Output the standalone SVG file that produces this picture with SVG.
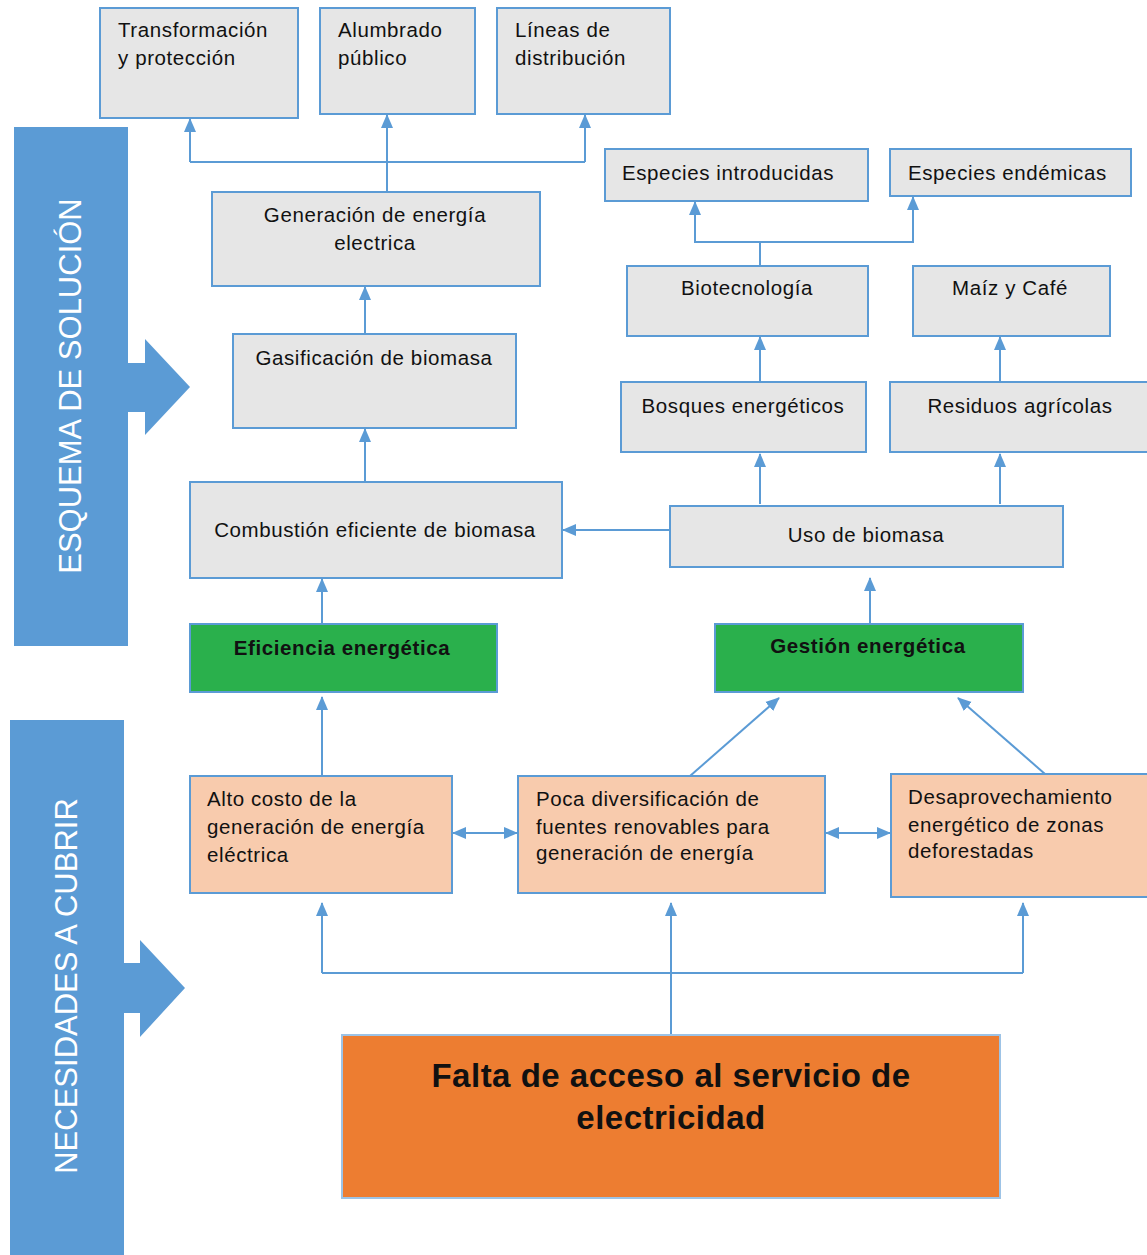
<svg xmlns="http://www.w3.org/2000/svg" width="1147" height="1255" viewBox="0 0 1147 1255">
<style>
.box{fill:#e6e6e6;stroke:#5b9bd5;stroke-width:2}
.green{fill:#2ab04c;stroke:#5b9bd5;stroke-width:2}
.peach{fill:#f8cbad;stroke:#5b9bd5;stroke-width:2}
.orange{fill:#ed7d31;stroke:#9dc3e6;stroke-width:2}
.t{font-family:"Liberation Sans",Arial,sans-serif;font-size:20.5px;letter-spacing:0.6px;fill:#111}
.c{text-anchor:middle}
.b{font-weight:bold}
.big{font-family:"Liberation Sans",Arial,sans-serif;font-size:33px;letter-spacing:0.5px;font-weight:bold;fill:#111;text-anchor:middle}
.ban{font-family:"Liberation Sans",Arial,sans-serif;font-size:31px;fill:#fff;text-anchor:middle}
.ln{fill:none;stroke:#5b9bd5;stroke-width:2}
</style>
<defs>
<marker id="ah" markerUnits="userSpaceOnUse" markerWidth="14" markerHeight="14" viewBox="0 0 14 14" refX="13" refY="7" orient="auto-start-reverse">
<path d="M0,1 L14,7 L0,13 Z" fill="#5b9bd5"/>
</marker>
</defs>
<rect width="1147" height="1255" fill="#fff"/>

<g id="banner-solucion">
<path d="M14,127 H128 V363 H145 V339 L190,387 L145,435 V412 H128 V646 H14 Z" fill="#5b9bd5"/>
<text class="ban" transform="translate(81,386) rotate(-90)">ESQUEMA DE SOLUCIÓN</text>
</g>
<g id="banner-necesidades">
<path d="M10,720 H124 V963 H140 V940 L185,988 L140,1037 V1013 H124 V1255 H10 Z" fill="#5b9bd5"/>
<text class="ban" transform="translate(77,986) rotate(-90)">NECESIDADES A CUBRIR</text>
</g>

<g id="connectors">
<path class="ln" d="M387,192 V115" marker-end="url(#ah)"/>
<path class="ln" d="M190,162 H585"/>
<path class="ln" d="M190,162 V119" marker-end="url(#ah)"/>
<path class="ln" d="M585,162 V115" marker-end="url(#ah)"/>
<path class="ln" d="M365,334 V287" marker-end="url(#ah)"/>
<path class="ln" d="M365,482 V429" marker-end="url(#ah)"/>
<path class="ln" d="M322,624 V579" marker-end="url(#ah)"/>
<path class="ln" d="M760,266 V242 H695 V202" marker-end="url(#ah)"/>
<path class="ln" d="M760,242 H913 V197" marker-end="url(#ah)"/>
<path class="ln" d="M760,382 V337" marker-end="url(#ah)"/>
<path class="ln" d="M1000,382 V337" marker-end="url(#ah)"/>
<path class="ln" d="M760,504 V454" marker-end="url(#ah)"/>
<path class="ln" d="M1000,504 V454" marker-end="url(#ah)"/>
<path class="ln" d="M670,530 H563" marker-end="url(#ah)"/>
<path class="ln" d="M870,624 V578" marker-end="url(#ah)"/>
<path class="ln" d="M322,776 V697" marker-end="url(#ah)"/>
<path class="ln" d="M690,776 L779,698" marker-end="url(#ah)"/>
<path class="ln" d="M1045,774 L958,698" marker-end="url(#ah)"/>
<path class="ln" d="M453,833 H517" marker-start="url(#ah)" marker-end="url(#ah)"/>
<path class="ln" d="M826,833 H890" marker-start="url(#ah)" marker-end="url(#ah)"/>
<path class="ln" d="M322,973 H1023"/>
<path class="ln" d="M322,973 V903" marker-end="url(#ah)"/>
<path class="ln" d="M1023,973 V903" marker-end="url(#ah)"/>
<path class="ln" d="M671,1035 V903" marker-end="url(#ah)"/>
</g>

<g id="transformacion"><rect class="box" x="100" y="8" width="198" height="110"/>
<text class="t" x="118" y="37">Transformación</text><text class="t" x="118" y="65">y protección</text></g>
<g id="alumbrado"><rect class="box" x="320" y="8" width="155" height="106"/>
<text class="t" x="338" y="37">Alumbrado</text><text class="t" x="338" y="65">público</text></g>
<g id="lineas"><rect class="box" x="497" y="8" width="173" height="106"/>
<text class="t" x="515" y="37">Líneas de</text><text class="t" x="515" y="65">distribución</text></g>
<g id="generacion"><rect class="box" x="212" y="192" width="328" height="94"/>
<text class="t c" x="375" y="222">Generación de energía</text><text class="t c" x="375" y="250">electrica</text></g>
<g id="gasificacion"><rect class="box" x="233" y="334" width="283" height="94"/>
<text class="t c" x="374" y="365">Gasificación de biomasa</text></g>
<g id="combustion"><rect class="box" x="190" y="482" width="372" height="96"/>
<text class="t c" x="375" y="537">Combustión eficiente de biomasa</text></g>
<g id="eficiencia"><rect class="green" x="190" y="624" width="307" height="68"/>
<text class="t c b" x="342" y="655">Eficiencia energética</text></g>
<g id="especies-introducidas"><rect class="box" x="605" y="149" width="263" height="52"/>
<text class="t" x="622" y="180">Especies introducidas</text></g>
<g id="especies-endemicas"><rect class="box" x="890" y="149" width="241" height="47"/>
<text class="t" x="908" y="180">Especies endémicas</text></g>
<g id="biotecnologia"><rect class="box" x="627" y="266" width="241" height="70"/>
<text class="t c" x="747" y="295">Biotecnología</text></g>
<g id="maiz"><rect class="box" x="913" y="266" width="197" height="70"/>
<text class="t c" x="1010" y="295">Maíz y Café</text></g>
<g id="bosques"><rect class="box" x="621" y="382" width="245" height="70"/>
<text class="t c" x="743" y="413">Bosques energéticos</text></g>
<g id="residuos"><rect class="box" x="890" y="382" width="260" height="70"/>
<text class="t c" x="1020" y="413">Residuos agrícolas</text></g>
<g id="uso"><rect class="box" x="670" y="506" width="393" height="61"/>
<text class="t c" x="866" y="542">Uso de biomasa</text></g>
<g id="gestion"><rect class="green" x="715" y="624" width="308" height="68"/>
<text class="t c b" x="868" y="653">Gestión energética</text></g>
<g id="alto-costo"><rect class="peach" x="190" y="776" width="262" height="117"/>
<text class="t" x="207" y="806">Alto costo de la</text><text class="t" x="207" y="834">generación de energía</text><text class="t" x="207" y="862">eléctrica</text></g>
<g id="poca"><rect class="peach" x="518" y="776" width="307" height="117"/>
<text class="t" x="536" y="806">Poca diversificación de</text><text class="t" x="536" y="834">fuentes renovables para</text><text class="t" x="536" y="860">generación de energía</text></g>
<g id="desaprovechamiento"><rect class="peach" x="891" y="774" width="260" height="123"/>
<text class="t" x="908" y="804">Desaprovechamiento</text><text class="t" x="908" y="832">energético de zonas</text><text class="t" x="908" y="858">deforestadas</text></g>
<g id="falta"><rect class="orange" x="342" y="1035" width="658" height="163"/>
<text class="big" x="671" y="1087">Falta de acceso al servicio de</text><text class="big" x="671" y="1129">electricidad</text></g>
</svg>
